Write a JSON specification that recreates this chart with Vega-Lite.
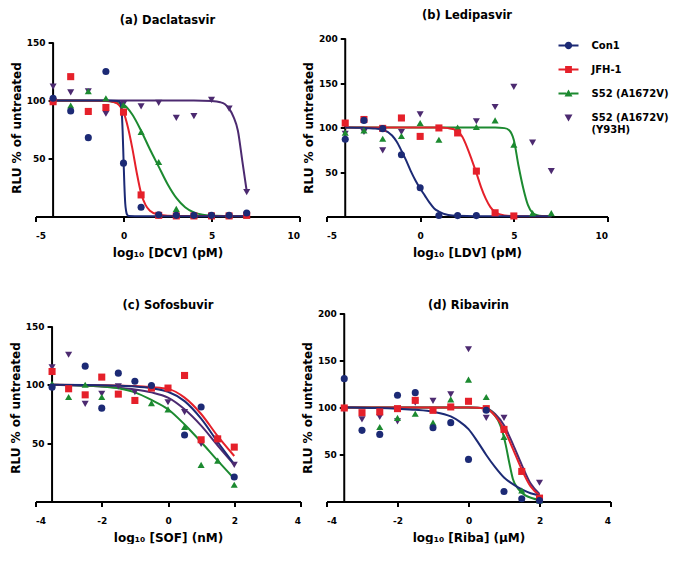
{
"$schema": "https://vega.github.io/schema/vega-lite/v6.json",
"padding": {"left": 8.5, "top": 9.5, "right": 0, "bottom": 0},
"autosize": {"type": "pad"},
"background": "white",
"datasets": {
"pts": [
{"p":"a","s":"S52 (A1672V) (Y93H)","x":-4,"y":112},{"p":"a","s":"S52 (A1672V) (Y93H)","x":-3,"y":107},{"p":"a","s":"S52 (A1672V) (Y93H)","x":-2,"y":108},{"p":"a","s":"S52 (A1672V) (Y93H)","x":-1,"y":88.6},{"p":"a","s":"S52 (A1672V) (Y93H)","x":0,"y":97},{"p":"a","s":"S52 (A1672V) (Y93H)","x":1,"y":95},{"p":"a","s":"S52 (A1672V) (Y93H)","x":2,"y":98},{"p":"a","s":"S52 (A1672V) (Y93H)","x":3,"y":85},{"p":"a","s":"S52 (A1672V) (Y93H)","x":4,"y":86.6},{"p":"a","s":"S52 (A1672V) (Y93H)","x":5,"y":100.6},{"p":"a","s":"S52 (A1672V) (Y93H)","x":6,"y":93},{"p":"a","s":"S52 (A1672V) (Y93H)","x":7,"y":21},
{"p":"a","s":"S52 (A1672V)","x":-4,"y":101},{"p":"a","s":"S52 (A1672V)","x":-3,"y":95.7},{"p":"a","s":"S52 (A1672V)","x":-2,"y":108},{"p":"a","s":"S52 (A1672V)","x":-1,"y":102},{"p":"a","s":"S52 (A1672V)","x":0,"y":96},{"p":"a","s":"S52 (A1672V)","x":1,"y":73},{"p":"a","s":"S52 (A1672V)","x":2,"y":47},{"p":"a","s":"S52 (A1672V)","x":3,"y":6.6},{"p":"a","s":"S52 (A1672V)","x":4,"y":1},{"p":"a","s":"S52 (A1672V)","x":5,"y":1},{"p":"a","s":"S52 (A1672V)","x":6,"y":1},{"p":"a","s":"S52 (A1672V)","x":7,"y":1},
{"p":"a","s":"JFH-1","x":-4,"y":99},{"p":"a","s":"JFH-1","x":-3,"y":120.6},{"p":"a","s":"JFH-1","x":-2,"y":90.6},{"p":"a","s":"JFH-1","x":-1,"y":94},{"p":"a","s":"JFH-1","x":0,"y":90},{"p":"a","s":"JFH-1","x":1,"y":18.6},{"p":"a","s":"JFH-1","x":2,"y":1},{"p":"a","s":"JFH-1","x":3,"y":0.5},{"p":"a","s":"JFH-1","x":4,"y":0.5},{"p":"a","s":"JFH-1","x":5,"y":0.5},{"p":"a","s":"JFH-1","x":6,"y":0.5},{"p":"a","s":"JFH-1","x":7,"y":1},
{"p":"a","s":"Con1","x":-4,"y":102},{"p":"a","s":"Con1","x":-3,"y":91},{"p":"a","s":"Con1","x":-2,"y":68},{"p":"a","s":"Con1","x":-1,"y":125},{"p":"a","s":"Con1","x":0,"y":46},{"p":"a","s":"Con1","x":1,"y":8},{"p":"a","s":"Con1","x":2,"y":1.5},{"p":"a","s":"Con1","x":3,"y":1},{"p":"a","s":"Con1","x":4,"y":1},{"p":"a","s":"Con1","x":5,"y":1},{"p":"a","s":"Con1","x":6,"y":1},{"p":"a","s":"Con1","x":7,"y":3},
{"p":"b","s":"S52 (A1672V) (Y93H)","x":-4,"y":93},{"p":"b","s":"S52 (A1672V) (Y93H)","x":-3,"y":95},{"p":"b","s":"S52 (A1672V) (Y93H)","x":-2,"y":74.3},{"p":"b","s":"S52 (A1672V) (Y93H)","x":-1,"y":95},{"p":"b","s":"S52 (A1672V) (Y93H)","x":0,"y":114.8},{"p":"b","s":"S52 (A1672V) (Y93H)","x":3,"y":107},{"p":"b","s":"S52 (A1672V) (Y93H)","x":4,"y":123},{"p":"b","s":"S52 (A1672V) (Y93H)","x":5,"y":145.6},{"p":"b","s":"S52 (A1672V) (Y93H)","x":6,"y":83},{"p":"b","s":"S52 (A1672V) (Y93H)","x":7,"y":51},
{"p":"b","s":"S52 (A1672V)","x":-4,"y":94.2},{"p":"b","s":"S52 (A1672V)","x":-3,"y":96.8},{"p":"b","s":"S52 (A1672V)","x":-2,"y":87.4},{"p":"b","s":"S52 (A1672V)","x":-1,"y":90.5},{"p":"b","s":"S52 (A1672V)","x":0,"y":105},{"p":"b","s":"S52 (A1672V)","x":1,"y":86.3},{"p":"b","s":"S52 (A1672V)","x":2,"y":100},{"p":"b","s":"S52 (A1672V)","x":3,"y":100.6},{"p":"b","s":"S52 (A1672V)","x":4,"y":108},{"p":"b","s":"S52 (A1672V)","x":5,"y":80.7},{"p":"b","s":"S52 (A1672V)","x":6,"y":3.8},{"p":"b","s":"S52 (A1672V)","x":7,"y":3.8},
{"p":"b","s":"JFH-1","x":-4,"y":105},{"p":"b","s":"JFH-1","x":-3,"y":109},{"p":"b","s":"JFH-1","x":-2,"y":99},{"p":"b","s":"JFH-1","x":-1,"y":110.7},{"p":"b","s":"JFH-1","x":0,"y":90},{"p":"b","s":"JFH-1","x":1,"y":99.5},{"p":"b","s":"JFH-1","x":2,"y":93.9},{"p":"b","s":"JFH-1","x":3,"y":51},{"p":"b","s":"JFH-1","x":4,"y":4.2},{"p":"b","s":"JFH-1","x":5,"y":0.6},
{"p":"b","s":"Con1","x":-4,"y":86.7},{"p":"b","s":"Con1","x":-3,"y":108},{"p":"b","s":"Con1","x":-2,"y":98.7},{"p":"b","s":"Con1","x":-1,"y":69.4},{"p":"b","s":"Con1","x":0,"y":32.3},{"p":"b","s":"Con1","x":1,"y":1.1},{"p":"b","s":"Con1","x":2,"y":1},{"p":"b","s":"Con1","x":3,"y":1},
{"p":"c","s":"S52 (A1672V) (Y93H)","x":-3.5,"y":115},{"p":"c","s":"S52 (A1672V) (Y93H)","x":-3,"y":125.7},{"p":"c","s":"S52 (A1672V) (Y93H)","x":-2.5,"y":83.7},{"p":"c","s":"S52 (A1672V) (Y93H)","x":-2,"y":92.3},{"p":"c","s":"S52 (A1672V) (Y93H)","x":-1.5,"y":98.6},{"p":"c","s":"S52 (A1672V) (Y93H)","x":-1,"y":93.7},{"p":"c","s":"S52 (A1672V) (Y93H)","x":0,"y":85},{"p":"c","s":"S52 (A1672V) (Y93H)","x":0.5,"y":76.6},{"p":"c","s":"S52 (A1672V) (Y93H)","x":1,"y":49.4},{"p":"c","s":"S52 (A1672V) (Y93H)","x":1.5,"y":51},{"p":"c","s":"S52 (A1672V) (Y93H)","x":2,"y":31.4},
{"p":"c","s":"S52 (A1672V)","x":-3.5,"y":100.9},{"p":"c","s":"S52 (A1672V)","x":-3,"y":89.5},{"p":"c","s":"S52 (A1672V)","x":-2.5,"y":100},{"p":"c","s":"S52 (A1672V)","x":-2,"y":89.5},{"p":"c","s":"S52 (A1672V)","x":-0.5,"y":84.3},{"p":"c","s":"S52 (A1672V)","x":0,"y":78.9},{"p":"c","s":"S52 (A1672V)","x":0.5,"y":63.8},{"p":"c","s":"S52 (A1672V)","x":1,"y":31.4},{"p":"c","s":"S52 (A1672V)","x":1.5,"y":35},{"p":"c","s":"S52 (A1672V)","x":2,"y":14.3},
{"p":"c","s":"JFH-1","x":-3.5,"y":111.4},{"p":"c","s":"JFH-1","x":-3,"y":96.6},{"p":"c","s":"JFH-1","x":-2.5,"y":91.4},{"p":"c","s":"JFH-1","x":-2,"y":106.6},{"p":"c","s":"JFH-1","x":-1.5,"y":92},{"p":"c","s":"JFH-1","x":-1,"y":86.6},{"p":"c","s":"JFH-1","x":-0.5,"y":97.2},{"p":"c","s":"JFH-1","x":0,"y":97.2},{"p":"c","s":"JFH-1","x":0.5,"y":108},{"p":"c","s":"JFH-1","x":1,"y":52.9},{"p":"c","s":"JFH-1","x":1.5,"y":53.7},{"p":"c","s":"JFH-1","x":2,"y":46.6},
{"p":"c","s":"Con1","x":-3.5,"y":98},{"p":"c","s":"Con1","x":-2.5,"y":116},{"p":"c","s":"Con1","x":-2,"y":80},{"p":"c","s":"Con1","x":-1.5,"y":110},{"p":"c","s":"Con1","x":-1,"y":103},{"p":"c","s":"Con1","x":-0.5,"y":99.4},{"p":"c","s":"Con1","x":0.5,"y":57},{"p":"c","s":"Con1","x":1,"y":81},{"p":"c","s":"Con1","x":2,"y":21},
{"p":"d","s":"S52 (A1672V) (Y93H)","x":-3.5,"y":98},{"p":"d","s":"S52 (A1672V) (Y93H)","x":-3,"y":87.4},{"p":"d","s":"S52 (A1672V) (Y93H)","x":-2.5,"y":89.9},{"p":"d","s":"S52 (A1672V) (Y93H)","x":-2,"y":85.2},{"p":"d","s":"S52 (A1672V) (Y93H)","x":-1.5,"y":105.2},{"p":"d","s":"S52 (A1672V) (Y93H)","x":-1,"y":107},{"p":"d","s":"S52 (A1672V) (Y93H)","x":-0.5,"y":114},{"p":"d","s":"S52 (A1672V) (Y93H)","x":0,"y":162},{"p":"d","s":"S52 (A1672V) (Y93H)","x":0.5,"y":88.9},{"p":"d","s":"S52 (A1672V) (Y93H)","x":1,"y":88.9},{"p":"d","s":"S52 (A1672V) (Y93H)","x":2,"y":19.9},
{"p":"d","s":"S52 (A1672V)","x":-3.5,"y":100.5},{"p":"d","s":"S52 (A1672V)","x":-2.5,"y":79.3},{"p":"d","s":"S52 (A1672V)","x":-2,"y":88.9},{"p":"d","s":"S52 (A1672V)","x":-1.5,"y":93.4},{"p":"d","s":"S52 (A1672V)","x":-1,"y":83.9},{"p":"d","s":"S52 (A1672V)","x":-0.5,"y":108.7},{"p":"d","s":"S52 (A1672V)","x":0,"y":129.7},{"p":"d","s":"S52 (A1672V)","x":0.5,"y":111.2},{"p":"d","s":"S52 (A1672V)","x":1,"y":68.6},{"p":"d","s":"S52 (A1672V)","x":1.5,"y":11.7},{"p":"d","s":"S52 (A1672V)","x":2,"y":1},
{"p":"d","s":"JFH-1","x":-3.5,"y":99.5},{"p":"d","s":"JFH-1","x":-3,"y":94.5},{"p":"d","s":"JFH-1","x":-2.5,"y":95.3},{"p":"d","s":"JFH-1","x":-2,"y":98.8},{"p":"d","s":"JFH-1","x":-1.5,"y":107.6},{"p":"d","s":"JFH-1","x":-1,"y":97},{"p":"d","s":"JFH-1","x":-0.5,"y":100.6},{"p":"d","s":"JFH-1","x":0,"y":106.6},{"p":"d","s":"JFH-1","x":0.5,"y":98.8},{"p":"d","s":"JFH-1","x":1,"y":76.7},{"p":"d","s":"JFH-1","x":1.5,"y":32},{"p":"d","s":"JFH-1","x":2,"y":3.6},
{"p":"d","s":"Con1","x":-3.5,"y":130.7},{"p":"d","s":"Con1","x":-3,"y":75.7},{"p":"d","s":"Con1","x":-2.5,"y":71.4},{"p":"d","s":"Con1","x":-2,"y":113},{"p":"d","s":"Con1","x":-1.5,"y":115.8},{"p":"d","s":"Con1","x":-1,"y":78.5},{"p":"d","s":"Con1","x":-0.5,"y":83.9},{"p":"d","s":"Con1","x":0,"y":44.8},{"p":"d","s":"Con1","x":0.5,"y":97},{"p":"d","s":"Con1","x":1,"y":10.7},{"p":"d","s":"Con1","x":1.5,"y":2.9},{"p":"d","s":"Con1","x":2,"y":1.1}
],
"fit": [
{"p":"a","s":"S52 (A1672V) (Y93H)","x":-4,"y":100},{"p":"a","s":"S52 (A1672V) (Y93H)","x":4,"y":100},{"p":"a","s":"S52 (A1672V) (Y93H)","x":5,"y":99.5},{"p":"a","s":"S52 (A1672V) (Y93H)","x":5.5,"y":98.5},{"p":"a","s":"S52 (A1672V) (Y93H)","x":5.75,"y":97},{"p":"a","s":"S52 (A1672V) (Y93H)","x":6,"y":93},{"p":"a","s":"S52 (A1672V) (Y93H)","x":6.25,"y":86},{"p":"a","s":"S52 (A1672V) (Y93H)","x":6.5,"y":74},{"p":"a","s":"S52 (A1672V) (Y93H)","x":6.75,"y":48},{"p":"a","s":"S52 (A1672V) (Y93H)","x":7,"y":22},
{"p":"a","s":"S52 (A1672V)","x":-4,"y":100},{"p":"a","s":"S52 (A1672V)","x":-2,"y":99.8},{"p":"a","s":"S52 (A1672V)","x":-1,"y":99.5},{"p":"a","s":"S52 (A1672V)","x":-0.5,"y":98.5},{"p":"a","s":"S52 (A1672V)","x":0,"y":96.5},{"p":"a","s":"S52 (A1672V)","x":0.5,"y":88},{"p":"a","s":"S52 (A1672V)","x":1,"y":74},{"p":"a","s":"S52 (A1672V)","x":1.5,"y":58},{"p":"a","s":"S52 (A1672V)","x":2,"y":43},{"p":"a","s":"S52 (A1672V)","x":2.5,"y":28},{"p":"a","s":"S52 (A1672V)","x":3,"y":16},{"p":"a","s":"S52 (A1672V)","x":3.5,"y":8},{"p":"a","s":"S52 (A1672V)","x":4,"y":3.5},{"p":"a","s":"S52 (A1672V)","x":4.5,"y":1.5},{"p":"a","s":"S52 (A1672V)","x":5,"y":0.8},{"p":"a","s":"S52 (A1672V)","x":6,"y":0.4},{"p":"a","s":"S52 (A1672V)","x":7,"y":0.3},
{"p":"a","s":"JFH-1","x":-4,"y":100},{"p":"a","s":"JFH-1","x":-1,"y":99.8},{"p":"a","s":"JFH-1","x":-0.5,"y":98.5},{"p":"a","s":"JFH-1","x":-0.25,"y":96},{"p":"a","s":"JFH-1","x":0,"y":90},{"p":"a","s":"JFH-1","x":0.25,"y":77},{"p":"a","s":"JFH-1","x":0.5,"y":59},{"p":"a","s":"JFH-1","x":0.75,"y":38},{"p":"a","s":"JFH-1","x":1,"y":20},{"p":"a","s":"JFH-1","x":1.25,"y":10},{"p":"a","s":"JFH-1","x":1.5,"y":5},{"p":"a","s":"JFH-1","x":2,"y":1.5},{"p":"a","s":"JFH-1","x":3,"y":0.4},{"p":"a","s":"JFH-1","x":7,"y":0.3},
{"p":"a","s":"Con1","x":-4,"y":100},{"p":"a","s":"Con1","x":-1,"y":100},{"p":"a","s":"Con1","x":-0.3,"y":99.5},{"p":"a","s":"Con1","x":-0.2,"y":98.5},{"p":"a","s":"Con1","x":-0.15,"y":96},{"p":"a","s":"Con1","x":-0.1,"y":90},{"p":"a","s":"Con1","x":-0.05,"y":74},{"p":"a","s":"Con1","x":0,"y":50},{"p":"a","s":"Con1","x":0.05,"y":27},{"p":"a","s":"Con1","x":0.1,"y":11},{"p":"a","s":"Con1","x":0.15,"y":4.5},{"p":"a","s":"Con1","x":0.2,"y":1.8},{"p":"a","s":"Con1","x":0.3,"y":0.5},{"p":"a","s":"Con1","x":1,"y":0.3},{"p":"a","s":"Con1","x":7,"y":0.3},
{"p":"b","s":"S52 (A1672V)","x":-4,"y":100},{"p":"b","s":"S52 (A1672V)","x":4,"y":100},{"p":"b","s":"S52 (A1672V)","x":4.5,"y":99.3},{"p":"b","s":"S52 (A1672V)","x":4.75,"y":97},{"p":"b","s":"S52 (A1672V)","x":5,"y":86},{"p":"b","s":"S52 (A1672V)","x":5.25,"y":57},{"p":"b","s":"S52 (A1672V)","x":5.5,"y":32},{"p":"b","s":"S52 (A1672V)","x":5.75,"y":13},{"p":"b","s":"S52 (A1672V)","x":6,"y":4},{"p":"b","s":"S52 (A1672V)","x":6.25,"y":1.5},{"p":"b","s":"S52 (A1672V)","x":6.5,"y":0.7},{"p":"b","s":"S52 (A1672V)","x":7,"y":0.3},
{"p":"b","s":"JFH-1","x":-4,"y":100},{"p":"b","s":"JFH-1","x":1,"y":100},{"p":"b","s":"JFH-1","x":1.5,"y":99.3},{"p":"b","s":"JFH-1","x":1.75,"y":98.3},{"p":"b","s":"JFH-1","x":2,"y":96},{"p":"b","s":"JFH-1","x":2.25,"y":89.5},{"p":"b","s":"JFH-1","x":2.5,"y":78},{"p":"b","s":"JFH-1","x":2.75,"y":64},{"p":"b","s":"JFH-1","x":3,"y":49},{"p":"b","s":"JFH-1","x":3.25,"y":33},{"p":"b","s":"JFH-1","x":3.5,"y":20},{"p":"b","s":"JFH-1","x":3.75,"y":10.5},{"p":"b","s":"JFH-1","x":4,"y":5},{"p":"b","s":"JFH-1","x":4.5,"y":1.2},{"p":"b","s":"JFH-1","x":5,"y":0.4},{"p":"b","s":"JFH-1","x":7,"y":0.3},
{"p":"b","s":"Con1","x":-4,"y":100},{"p":"b","s":"Con1","x":-3,"y":99.6},{"p":"b","s":"Con1","x":-2.5,"y":99},{"p":"b","s":"Con1","x":-2,"y":97.5},{"p":"b","s":"Con1","x":-1.5,"y":91},{"p":"b","s":"Con1","x":-1.25,"y":84},{"p":"b","s":"Con1","x":-1,"y":74},{"p":"b","s":"Con1","x":-0.75,"y":63},{"p":"b","s":"Con1","x":-0.5,"y":51},{"p":"b","s":"Con1","x":-0.25,"y":40.5},{"p":"b","s":"Con1","x":0,"y":31.5},{"p":"b","s":"Con1","x":0.25,"y":23.5},{"p":"b","s":"Con1","x":0.5,"y":15.5},{"p":"b","s":"Con1","x":0.75,"y":9},{"p":"b","s":"Con1","x":1,"y":5.5},{"p":"b","s":"Con1","x":1.5,"y":1.8},{"p":"b","s":"Con1","x":2,"y":0.8},{"p":"b","s":"Con1","x":3,"y":0.4},{"p":"b","s":"Con1","x":7,"y":0.3},
{"p":"c","s":"S52 (A1672V) (Y93H)","x":-3.5,"y":100},{"p":"c","s":"S52 (A1672V) (Y93H)","x":-3,"y":99.6},{"p":"c","s":"S52 (A1672V) (Y93H)","x":-2.5,"y":99.2},{"p":"c","s":"S52 (A1672V) (Y93H)","x":-2,"y":98.5},{"p":"c","s":"S52 (A1672V) (Y93H)","x":-1.5,"y":97.5},{"p":"c","s":"S52 (A1672V) (Y93H)","x":-1,"y":96},{"p":"c","s":"S52 (A1672V) (Y93H)","x":-0.5,"y":93.5},{"p":"c","s":"S52 (A1672V) (Y93H)","x":0,"y":89},{"p":"c","s":"S52 (A1672V) (Y93H)","x":0.5,"y":79},{"p":"c","s":"S52 (A1672V) (Y93H)","x":1,"y":65},{"p":"c","s":"S52 (A1672V) (Y93H)","x":1.5,"y":48},{"p":"c","s":"S52 (A1672V) (Y93H)","x":2,"y":31.5},
{"p":"c","s":"S52 (A1672V)","x":-3.5,"y":100},{"p":"c","s":"S52 (A1672V)","x":-3,"y":99.8},{"p":"c","s":"S52 (A1672V)","x":-2.5,"y":99.3},{"p":"c","s":"S52 (A1672V)","x":-2,"y":98.6},{"p":"c","s":"S52 (A1672V)","x":-1.5,"y":97},{"p":"c","s":"S52 (A1672V)","x":-1,"y":93.5},{"p":"c","s":"S52 (A1672V)","x":-0.5,"y":87},{"p":"c","s":"S52 (A1672V)","x":0,"y":79},{"p":"c","s":"S52 (A1672V)","x":0.5,"y":66},{"p":"c","s":"S52 (A1672V)","x":1,"y":51},{"p":"c","s":"S52 (A1672V)","x":1.5,"y":35},{"p":"c","s":"S52 (A1672V)","x":2,"y":19.5},
{"p":"c","s":"JFH-1","x":-3.5,"y":100},{"p":"c","s":"JFH-1","x":-2,"y":99.7},{"p":"c","s":"JFH-1","x":-1.5,"y":99.5},{"p":"c","s":"JFH-1","x":-1,"y":99},{"p":"c","s":"JFH-1","x":-0.5,"y":98},{"p":"c","s":"JFH-1","x":0,"y":96.5},{"p":"c","s":"JFH-1","x":0.5,"y":89},{"p":"c","s":"JFH-1","x":1,"y":75},{"p":"c","s":"JFH-1","x":1.5,"y":56},{"p":"c","s":"JFH-1","x":2,"y":39},
{"p":"c","s":"Con1","x":-3.5,"y":100},{"p":"c","s":"Con1","x":-2.5,"y":99.8},{"p":"c","s":"Con1","x":-2,"y":99.6},{"p":"c","s":"Con1","x":-1.5,"y":99.2},{"p":"c","s":"Con1","x":-1,"y":98.5},{"p":"c","s":"Con1","x":-0.5,"y":97},{"p":"c","s":"Con1","x":0,"y":94},{"p":"c","s":"Con1","x":0.5,"y":86},{"p":"c","s":"Con1","x":1,"y":71},{"p":"c","s":"Con1","x":1.5,"y":51},{"p":"c","s":"Con1","x":2,"y":32},
{"p":"d","s":"S52 (A1672V) (Y93H)","x":-3.5,"y":100},{"p":"d","s":"S52 (A1672V) (Y93H)","x":0,"y":100},{"p":"d","s":"S52 (A1672V) (Y93H)","x":0.5,"y":99.2},{"p":"d","s":"S52 (A1672V) (Y93H)","x":0.75,"y":93},{"p":"d","s":"S52 (A1672V) (Y93H)","x":1,"y":81},{"p":"d","s":"S52 (A1672V) (Y93H)","x":1.25,"y":61},{"p":"d","s":"S52 (A1672V) (Y93H)","x":1.5,"y":39},{"p":"d","s":"S52 (A1672V) (Y93H)","x":1.75,"y":19},{"p":"d","s":"S52 (A1672V) (Y93H)","x":2,"y":8},
{"p":"d","s":"S52 (A1672V)","x":-3.5,"y":100},{"p":"d","s":"S52 (A1672V)","x":0,"y":100},{"p":"d","s":"S52 (A1672V)","x":0.5,"y":99},{"p":"d","s":"S52 (A1672V)","x":0.75,"y":91},{"p":"d","s":"S52 (A1672V)","x":0.85,"y":85},{"p":"d","s":"S52 (A1672V)","x":0.95,"y":75},{"p":"d","s":"S52 (A1672V)","x":1.05,"y":60},{"p":"d","s":"S52 (A1672V)","x":1.15,"y":41},{"p":"d","s":"S52 (A1672V)","x":1.25,"y":24},{"p":"d","s":"S52 (A1672V)","x":1.4,"y":13.5},{"p":"d","s":"S52 (A1672V)","x":1.6,"y":6.5},{"p":"d","s":"S52 (A1672V)","x":1.8,"y":3.5},{"p":"d","s":"S52 (A1672V)","x":2,"y":1.5},
{"p":"d","s":"JFH-1","x":-3.5,"y":100},{"p":"d","s":"JFH-1","x":0,"y":100},{"p":"d","s":"JFH-1","x":0.5,"y":99},{"p":"d","s":"JFH-1","x":0.75,"y":91},{"p":"d","s":"JFH-1","x":1,"y":77},{"p":"d","s":"JFH-1","x":1.25,"y":56},{"p":"d","s":"JFH-1","x":1.5,"y":34},{"p":"d","s":"JFH-1","x":1.75,"y":16},{"p":"d","s":"JFH-1","x":2,"y":6.5},
{"p":"d","s":"Con1","x":-3.5,"y":100},{"p":"d","s":"Con1","x":-3,"y":99.8},{"p":"d","s":"Con1","x":-2.5,"y":99.4},{"p":"d","s":"Con1","x":-2,"y":98.6},{"p":"d","s":"Con1","x":-1.5,"y":97.5},{"p":"d","s":"Con1","x":-1,"y":95.5},{"p":"d","s":"Con1","x":-0.5,"y":90.5},{"p":"d","s":"Con1","x":-0.25,"y":85},{"p":"d","s":"Con1","x":0,"y":77},{"p":"d","s":"Con1","x":0.25,"y":64},{"p":"d","s":"Con1","x":0.5,"y":49.5},{"p":"d","s":"Con1","x":0.75,"y":36.5},{"p":"d","s":"Con1","x":1,"y":25.5},{"p":"d","s":"Con1","x":1.25,"y":18.5},{"p":"d","s":"Con1","x":1.5,"y":12.8},{"p":"d","s":"Con1","x":1.75,"y":8.8},{"p":"d","s":"Con1","x":2,"y":6.4}
]
},
"columns": 2,
"bounds": "flush",
"spacing": {"row": 97, "column": 26},
"resolve": {"scale": {"x": "independent", "y": "independent", "color": "independent", "shape": "independent", "stroke": "independent"}, "legend": {"color": "independent", "shape": "independent", "stroke": "independent"}},
"concat": [
{
 "width": 264, "height": 178,
 "title": {"text": "(a) Daclatasvir", "offset": 12.5},
 "encoding": {
  "x": {"field": "x", "type": "quantitative", "scale": {"domain": [-5, 10], "nice": false, "zero": false}, "axis": {"values": [-5, 0, 5, 10], "labelExpr": "datum.value + ''", "title": "log₁₀ [DCV] (pM)"}},
  "y": {"field": "y", "type": "quantitative", "scale": {"domain": [0, 153.5], "nice": false, "zero": false}, "axis": {"values": [50, 100, 150], "domain": false, "offset": -17.6, "title": "RLU % of untreated"}}
 },
 "layer": [
  {"data": {"values": [{"x": -4, "y": 0, "y2": 150}]}, "mark": {"type": "rule", "strokeWidth": 2, "color": "black"}, "encoding": {"y2": {"field": "y2"}}},
  {"data": {"name": "fit"}, "transform": [{"filter": "datum.p == 'a'"}], "mark": {"type": "line", "strokeWidth": 2, "interpolate": "monotone"},
   "encoding": {"stroke": {"field": "s", "type": "nominal", "legend": null, "scale": {"domain": ["Con1", "JFH-1", "S52 (A1672V)", "S52 (A1672V) (Y93H)"], "range": ["#1c2a75", "#e5202a", "#1c8a30", "#4c2a70"]}}}},
  {"data": {"name": "pts"}, "transform": [{"filter": "datum.p == 'a'"}], "mark": {"type": "point", "filled": true, "opacity": 1, "size": 50, "strokeWidth": 0},
   "encoding": {
    "color": {"field": "s", "type": "nominal", "legend": null, "scale": {"domain": ["Con1", "JFH-1", "S52 (A1672V)", "S52 (A1672V) (Y93H)"], "range": ["#1c2a75", "#e5202a", "#1c8a30", "#4c2a70"]}},
    "shape": {"field": "s", "type": "nominal", "legend": null, "scale": {"domain": ["Con1", "JFH-1", "S52 (A1672V)", "S52 (A1672V) (Y93H)"], "range": ["circle", "square", "triangle-up", "triangle-down"]}}
   }
  }
 ]
},
{
 "width": 281, "height": 178,
 "title": {"text": "(b) Ledipasvir", "offset": 13},
 "resolve": {"scale": {"color": "independent", "shape": "independent"}, "legend": {"color": "independent", "shape": "independent"}},
 "encoding": {
  "x": {"field": "x", "type": "quantitative", "scale": {"domain": [-5, 10], "nice": false, "zero": false}, "axis": {"values": [-5, 0, 5, 10], "labelExpr": "datum.value + ''", "title": "log₁₀ [LDV] (pM)"}},
  "y": {"field": "y", "type": "quantitative", "scale": {"domain": [0, 200], "nice": false, "zero": false}, "axis": {"values": [50, 100, 150, 200], "domain": false, "offset": -18.73, "title": "RLU % of untreated"}}
 },
 "layer": [
  {"data": {"values": [{"x": -4, "y": 0, "y2": 200}]}, "mark": {"type": "rule", "strokeWidth": 2, "color": "black"}, "encoding": {"y2": {"field": "y2"}}},
  {"data": {"name": "fit"}, "transform": [{"filter": "datum.p == 'b'"}], "mark": {"type": "line", "strokeWidth": 2, "interpolate": "monotone"},
   "encoding": {"stroke": {"field": "s", "type": "nominal", "legend": null, "scale": {"domain": ["Con1", "JFH-1", "S52 (A1672V)"], "range": ["#1c2a75", "#e5202a", "#1c8a30"]}}}},
  {"data": {"name": "pts"}, "transform": [{"filter": "datum.p == 'b'"}], "mark": {"type": "point", "filled": true, "opacity": 1, "size": 50, "strokeWidth": 0},
   "encoding": {
    "color": {"field": "s", "type": "nominal", "legend": null, "scale": {"domain": ["Con1", "JFH-1", "S52 (A1672V)", "S52 (A1672V) (Y93H)"], "range": ["#1c2a75", "#e5202a", "#1c8a30", "#4c2a70"]}},
    "shape": {"field": "s", "type": "nominal", "legend": null, "scale": {"domain": ["Con1", "JFH-1", "S52 (A1672V)", "S52 (A1672V) (Y93H)"], "range": ["circle", "square", "triangle-up", "triangle-down"]}}
   }
  },
  {"data": {"name": "pts"}, "transform": [{"filter": "datum.p == 'legend-only'"}], "mark": {"type": "point", "filled": true, "opacity": 1, "size": 50, "strokeWidth": 0},
   "encoding": {
    "color": {
     "field": "s", "type": "nominal",
     "scale": {"domain": ["Con1", "JFH-1", "S52 (A1672V)", "S52 (A1672V) (Y93H)"], "range": ["#1c2a75", "#e5202a", "#1c8a30", "#4c2a70"]},
     "legend": {
      "title": null, "orient": "none", "legendX": 237, "legendY": 2, "padding": 0,
      "symbolSize": 64, "symbolStrokeWidth": 0,
      "labelFont": "DejaVu Sans", "labelFontWeight": "bold", "labelFontSize": 10, "labelColor": "black",
      "labelOffset": 18, "rowPadding": 14, "labelLimit": 300,
      "labelExpr": "datum.label == 'S52 (A1672V) (Y93H)' ? ['S52 (A1672V)', '(Y93H)'] : datum.label"
     }
    },
    "shape": {
     "field": "s", "type": "nominal",
     "scale": {"domain": ["Con1", "JFH-1", "S52 (A1672V)", "S52 (A1672V) (Y93H)"], "range": ["M-2.5,-0.25H-0.85V0.25H-2.5Z M0.85,-0.25H2.5V0.25H0.85Z M0.92,0A0.92,0.92 0 1,1 -0.92,0A0.92,0.92 0 1,1 0.92,0Z", "M-2.5,-0.25H-0.8V0.25H-2.5Z M0.8,-0.25H2.5V0.25H0.8Z M-0.85,-0.85H0.85V0.85H-0.85Z", "M-2.5,-0.25H-0.55V0.25H-2.5Z M0.55,-0.25H2.5V0.25H0.55Z M0,-1L1,0.75H-1Z", "M-1,-0.75H1L0,1Z"]},
     "legend": {
      "title": null, "orient": "none", "legendX": 237, "legendY": 2, "padding": 0,
      "symbolSize": 64, "symbolStrokeWidth": 0,
      "labelFont": "DejaVu Sans", "labelFontWeight": "bold", "labelFontSize": 10, "labelColor": "black",
      "labelOffset": 18, "rowPadding": 14, "labelLimit": 300,
      "labelExpr": "datum.label == 'S52 (A1672V) (Y93H)' ? ['S52 (A1672V)', '(Y93H)'] : datum.label"
     }
    }
   }
  }
 ]
},
{
 "width": 265, "height": 188,
 "title": {"text": "(c) Sofosbuvir", "offset": 2},
 "encoding": {
  "x": {"field": "x", "type": "quantitative", "scale": {"domain": [-4, 4], "nice": false, "zero": false}, "axis": {"values": [-4, -2, 0, 2, 4], "labelExpr": "datum.value + ''", "title": "log₁₀ [SOF] (nM)"}},
  "y": {"field": "y", "type": "quantitative", "scale": {"domain": [0, 161.1], "nice": false, "zero": false}, "axis": {"values": [50, 100, 150], "domain": false, "offset": -16.56, "title": "RLU % of untreated"}}
 },
 "layer": [
  {"data": {"values": [{"x": -3.5, "y": 0, "y2": 150}]}, "mark": {"type": "rule", "strokeWidth": 2, "color": "black"}, "encoding": {"y2": {"field": "y2"}}},
  {"data": {"name": "fit"}, "transform": [{"filter": "datum.p == 'c'"}], "mark": {"type": "line", "strokeWidth": 2, "interpolate": "monotone"},
   "encoding": {"stroke": {"field": "s", "type": "nominal", "legend": null, "scale": {"domain": ["Con1", "JFH-1", "S52 (A1672V)", "S52 (A1672V) (Y93H)"], "range": ["#1c2a75", "#e5202a", "#1c8a30", "#4c2a70"]}}}},
  {"data": {"name": "pts"}, "transform": [{"filter": "datum.p == 'c'"}], "mark": {"type": "point", "filled": true, "opacity": 1, "size": 50, "strokeWidth": 0},
   "encoding": {
    "color": {"field": "s", "type": "nominal", "legend": null, "scale": {"domain": ["Con1", "JFH-1", "S52 (A1672V)", "S52 (A1672V) (Y93H)"], "range": ["#1c2a75", "#e5202a", "#1c8a30", "#4c2a70"]}},
    "shape": {"field": "s", "type": "nominal", "legend": null, "scale": {"domain": ["Con1", "JFH-1", "S52 (A1672V)", "S52 (A1672V) (Y93H)"], "range": ["circle", "square", "triangle-up", "triangle-down"]}}
   }
  }
 ]
},
{
 "width": 284, "height": 188,
 "title": {"text": "(d) Ribavirin", "offset": -2},
 "encoding": {
  "x": {"field": "x", "type": "quantitative", "scale": {"domain": [-4, 4], "nice": false, "zero": false}, "axis": {"values": [-4, -2, 0, 2, 4], "labelExpr": "datum.value + ''", "title": "log₁₀ [Riba] (μM)"}},
  "y": {"field": "y", "type": "quantitative", "scale": {"domain": [0, 200], "nice": false, "zero": false}, "axis": {"values": [50, 100, 150, 200], "domain": false, "offset": -17.75, "title": "RLU % of untreated"}}
 },
 "layer": [
  {"data": {"values": [{"x": -3.5, "y": 0, "y2": 200}]}, "mark": {"type": "rule", "strokeWidth": 2, "color": "black"}, "encoding": {"y2": {"field": "y2"}}},
  {"data": {"name": "fit"}, "transform": [{"filter": "datum.p == 'd'"}], "mark": {"type": "line", "strokeWidth": 2, "interpolate": "monotone"},
   "encoding": {"stroke": {"field": "s", "type": "nominal", "legend": null, "scale": {"domain": ["Con1", "JFH-1", "S52 (A1672V)", "S52 (A1672V) (Y93H)"], "range": ["#1c2a75", "#e5202a", "#1c8a30", "#4c2a70"]}}}},
  {"data": {"name": "pts"}, "transform": [{"filter": "datum.p == 'd'"}], "mark": {"type": "point", "filled": true, "opacity": 1, "size": 50, "strokeWidth": 0},
   "encoding": {
    "color": {"field": "s", "type": "nominal", "legend": null, "scale": {"domain": ["Con1", "JFH-1", "S52 (A1672V)", "S52 (A1672V) (Y93H)"], "range": ["#1c2a75", "#e5202a", "#1c8a30", "#4c2a70"]}},
    "shape": {"field": "s", "type": "nominal", "legend": null, "scale": {"domain": ["Con1", "JFH-1", "S52 (A1672V)", "S52 (A1672V) (Y93H)"], "range": ["circle", "square", "triangle-up", "triangle-down"]}}
   }
  }
 ]
}
],
"config": {
 "view": {"stroke": null},
 "font": "DejaVu Sans",
 "axis": {"grid": false, "domainColor": "black", "domainWidth": 2, "tickColor": "black", "tickWidth": 2, "tickSize": 5, "labelFont": "DejaVu Sans", "labelFontWeight": "bold", "labelFontSize": 9, "labelColor": "black", "titleFont": "DejaVu Sans", "titleFontWeight": "bold", "titleFontSize": 12, "titleColor": "black"},
 "axisX": {"labelPadding": 10, "titlePadding": 7},
 "axisY": {"labelPadding": 3, "titlePadding": 3},
 "title": {"font": "DejaVu Sans", "fontWeight": "bold", "fontSize": 11.5, "color": "black", "anchor": "middle"}
}
}
